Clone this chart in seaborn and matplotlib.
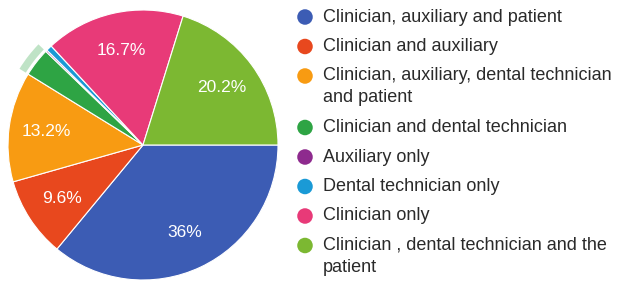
import matplotlib
matplotlib.use("Agg")
import matplotlib.pyplot as plt
from matplotlib.patches import Wedge
import seaborn as sns

# ---- data ----
categories = [
    "Clinician, auxiliary and patient",
    "Clinician and auxiliary",
    "Clinician, auxiliary, dental technician\nand patient",
    "Clinician and dental technician",
    "Auxiliary only",
    "Dental technician only",
    "Clinician only",
    "Clinician , dental technician and the\npatient",
]
percentages = [36.0, 9.6, 13.2, 3.4, 0.2, 0.7, 16.7, 20.2]
colors = ["#3c5cb4", "#e8481e", "#f89b12", "#2ea444", "#8e2a8e", "#1a9ad6", "#e83a78", "#7cb832"]

sns.set_theme(style="white")
plt.rcParams["font.family"] = ["Liberation Sans", "DejaVu Sans"]
palette = sns.color_palette(colors)

W, H = 617, 286
fig = plt.figure(figsize=(W / 100, H / 100), dpi=100)
fig.patch.set_facecolor("white")

# pie axes: center (143,145) px, radius 135 px
cx, cy, r = 143, 145, 135
ax = fig.add_axes([(cx - r) / W, (H - cy - r) / H, 2 * r / W, 2 * r / H])


def fmt(p):
    if p < 5:
        return ""
    s = f"{p:.1f}"
    if s.endswith(".0"):
        s = s[:-2]
    return s + "%"


wedges, texts, autotexts = ax.pie(
    percentages,
    colors=palette,
    startangle=0,
    counterclock=False,
    radius=1.0,
    autopct=fmt,
    pctdistance=0.72,
    wedgeprops=dict(edgecolor="white", linewidth=0.8),
    textprops=dict(color="white", fontsize=12.5),
)
ax.set_xlim(-1, 1)
ax.set_ylim(-1, 1)
ax.set_aspect("equal")
ax.axis("off")

# hover highlight ring around the green slice
g = wedges[3]
ring = Wedge((0, 0), 1.075, g.theta1, g.theta2, width=0.055,
             facecolor=colors[3], alpha=0.3, edgecolor="none", clip_on=False)
ax.add_patch(ring)

# legend drawn in pixel coordinates
lax = fig.add_axes([0, 0, 1, 1])
lax.set_xlim(0, W)
lax.set_ylim(H, 0)
lax.axis("off")
lax.patch.set_alpha(0)

y = 17.0
for lab, col in zip(categories, palette):
    lax.scatter([305], [y], s=125, color=col, edgecolors="none")
    lines = lab.split("\n")
    for i, line in enumerate(lines):
        lax.text(323, y + i * 22, line, fontsize=13, color="#2a2a2a",
                 va="center", ha="left")
    y += 29.5 + 22 * (len(lines) - 1)

fig.savefig("out.png", dpi=100, facecolor="white")
